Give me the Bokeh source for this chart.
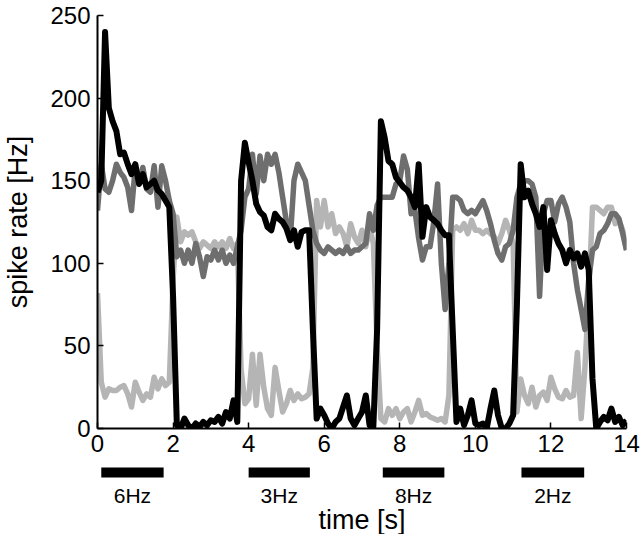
from bokeh.plotting import figure
from bokeh.models import Range1d, FixedTicker
from bokeh.layouts import column
from bokeh.embed import file_html
from bokeh.resources import INLINE
from bokeh.core.properties import value

# ---------------- data ----------------
time_s = [round(0.1 * i, 1) for i in range(141)]

rate_black = [
    143, 150, 240, 194, 186, 180, 166, 167, 160, 154,
    160, 148, 154, 146, 148, 150, 144, 142, 138, 134,
    80, 2, 0, 6, 2, 0, 3, 1, 4, 2,
    5, 4, 7, 3, 10, 6, 17, 4, 150, 173,
    161, 150, 136, 131, 129, 122, 120, 130, 127, 125,
    121, 114, 120, 110, 119, 120, 120, 60, 6, 12,
    8, 3, 0, 4, 6, 13, 20, 6, 2, 6,
    10, 20, 2, 1, 60, 186, 176, 162, 160, 152,
    149, 146, 144, 140, 134, 160, 116, 134, 128, 126,
    124, 120, 117, 117, 60, 4, 12, 2, 8, 17,
    3, 2, 3, 0, 12, 23, 8, 0, 0, 3,
    8, 75, 160, 140, 144, 136, 130, 122, 134, 96,
    126, 118, 112, 108, 100, 108, 103, 106, 98, 106,
    96, 30, 0, 4, 7, 5, 12, 4, 7, 2,
    5,
]

rate_dark = [
    132, 160, 145, 143, 150, 160, 155, 152, 146, 132,
    158, 148, 158, 145, 143, 159, 134, 159, 150, 138,
    130, 104, 108, 100, 108, 100, 112, 104, 92, 104,
    102, 108, 102, 108, 100, 105, 100, 110, 120, 140,
    145, 166, 142, 165, 150, 166, 160, 166, 155, 140,
    125, 114, 150, 160, 155, 150, 135, 120, 112, 108,
    106, 110, 108, 106, 108, 106, 110, 106, 108, 108,
    110, 112, 130, 120, 135, 140, 140, 140, 140, 148,
    150, 165, 157, 130, 132, 115, 102, 110, 110, 125,
    148, 100, 72, 100, 140, 140, 138, 132, 130, 132,
    130, 134, 138, 132, 124, 114, 106, 102, 110, 112,
    120, 140, 148, 150, 150, 148, 140, 80, 130, 138,
    138, 125, 136, 140, 134, 125, 100, 84, 72, 60,
    90, 108, 110, 118, 120, 124, 130, 130, 127, 118,
    108,
]

rate_light = [
    82, 28, 19, 24, 23, 23, 25, 26, 21, 13,
    28, 22, 17, 21, 19, 31, 24, 30, 26, 28,
    90, 128, 113, 119, 117, 119, 113, 109, 113, 111,
    109, 113, 110, 113, 109, 115, 109, 112, 36, 15,
    18, 45, 14, 45, 25, 12, 8, 37, 23, 10,
    15, 23, 17, 21, 18, 19, 21, 37, 138, 122,
    138, 122, 130, 118, 122, 118, 110, 124, 116, 112,
    120, 110, 122, 112, 50, 6, 4, 12, 8, 12,
    6, 10, 12, 4, 10, 17, 8, 9, 7, 6,
    5, 6, 4, 20, 120, 122, 120, 124, 118, 126,
    120, 120, 118, 120, 118, 116, 112, 118, 126, 120,
    112, 10, 30, 20, 15, 25, 13, 20, 22, 17,
    31, 24, 19, 18, 23, 19, 20, 46, 6, 37,
    80, 134, 134, 132, 130, 134, 134, 124, 126, 120,
    108,
]

x_ticks = [0, 2, 4, 6, 8, 10, 12, 14]
y_ticks = [0, 50, 100, 150, 200, 250]

stim_start = [0.1, 4.0, 7.55, 11.22]
stim_end = [1.75, 5.62, 9.18, 12.88]
stim_labels = ["6Hz", "3Hz", "8Hz", "2Hz"]

# ---------------- styling ----------------
FONT = "Liberation Sans"
C_BLACK = "#000000"
C_DARK = "#6e6e6e"
C_LIGHT = "#b5b5b5"

xr = Range1d(0, 14)

p = figure(width=640, height=462, x_range=xr, y_range=Range1d(0, 250),
           output_backend="svg", toolbar_location=None,
           min_border_left=97, min_border_right=14,
           min_border_top=15, min_border_bottom=34)
p.outline_line_color = None
p.grid.visible = False
p.background_fill_color = "white"
p.border_fill_color = "white"

p.line(time_s, rate_light, color=C_LIGHT, line_width=5.5, line_join="round")
p.line(time_s, rate_dark, color=C_DARK, line_width=5.5, line_join="round")
p.line(time_s, rate_black, color=C_BLACK, line_width=6, line_join="round")

for ax in (p.xaxis[0], p.yaxis[0]):
    ax.axis_line_width = 2
    ax.axis_line_color = "black"
    ax.major_tick_in = 6
    ax.major_tick_out = 0
    ax.major_tick_line_width = 1.5
    ax.minor_tick_line_color = None
    ax.major_label_text_font = FONT
    ax.major_label_text_font_size = "24px"
    ax.major_label_text_color = "black"

p.xaxis[0].ticker = FixedTicker(ticks=x_ticks)
p.yaxis[0].ticker = FixedTicker(ticks=y_ticks)
p.xaxis[0].major_label_standoff = 6
p.yaxis[0].major_label_standoff = 7

p.yaxis[0].axis_label = "spike rate [Hz]"
p.yaxis[0].axis_label_text_font = FONT
p.yaxis[0].axis_label_text_font_size = "27px"
p.yaxis[0].axis_label_text_font_style = "normal"
p.yaxis[0].axis_label_text_color = "black"
p.yaxis[0].axis_label_standoff = 14

# ---------------- stimulus bars + x label ----------------
p2 = figure(width=640, height=72, x_range=xr, y_range=Range1d(72, 0),
            output_backend="svg", toolbar_location=None,
            x_axis_type=None, y_axis_type=None,
            min_border_left=97, min_border_right=14,
            min_border_top=0, min_border_bottom=0)
p2.outline_line_color = None
p2.grid.visible = False
p2.background_fill_color = "white"
p2.border_fill_color = "white"

p2.quad(left=stim_start, right=stim_end, top=[5] * 4, bottom=[15] * 4,
        color="black", line_width=0)
stim_mid = [(a + b) / 2 for a, b in zip(stim_start, stim_end)]
p2.text(x=stim_mid, y=[33] * 4, text=stim_labels,
        text_font=value(FONT), text_font_size="21px",
        text_align="center", text_baseline="middle", text_color="black")
p2.text(x=[7], y=[57], text=["time [s]"],
        text_font=value(FONT), text_font_size="27px",
        text_align="center", text_baseline="middle", text_color="black")

layout = column(p, p2, spacing=0)

open("out.html", "w").write(file_html(layout, INLINE))
